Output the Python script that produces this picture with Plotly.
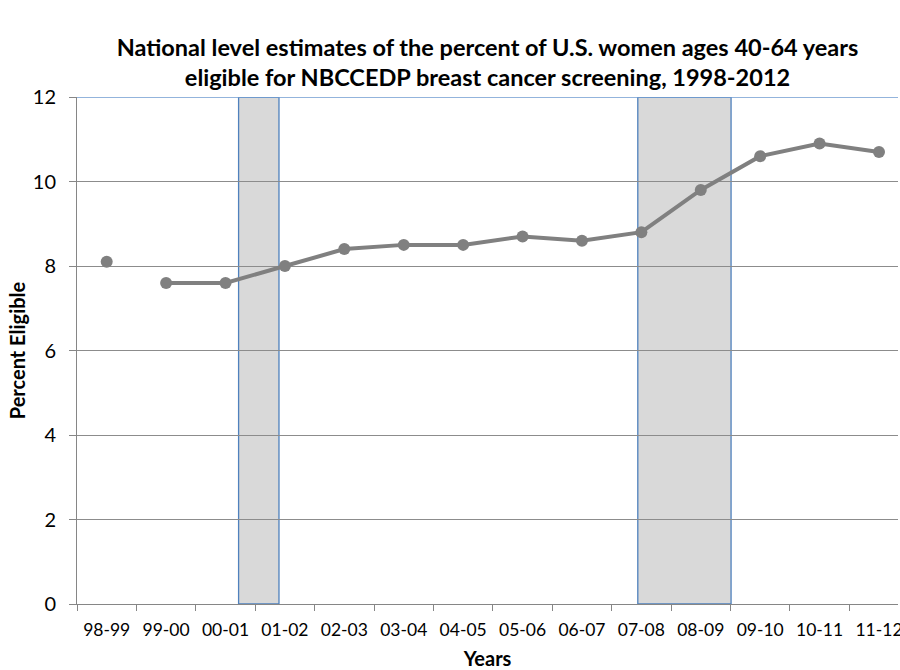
import plotly.graph_objects as go

years = ["98-99", "99-00", "00-01", "01-02", "02-03", "03-04", "04-05",
         "05-06", "06-07", "07-08", "08-09", "09-10", "10-11", "11-12"]
percent_eligible = [8.1, 7.6, 7.6, 8.0, 8.4, 8.5, 8.5, 8.7, 8.6, 8.8, 9.8, 10.6, 10.9, 10.7]
# shaded periods, in category-index units (start, end)
shaded_periods = [(2.22, 2.90), (8.94, 10.51)]
y_ticks = [0, 2, 4, 6, 8, 10, 12]

FONT = "Lato"
GRAY = "#808080"
BLUE = "#4F81BD"

fig = go.Figure()

# isolated first point
fig.add_trace(go.Scatter(
    x=years[:1], y=percent_eligible[:1], mode="markers",
    marker=dict(color=GRAY, size=12), showlegend=False, cliponaxis=False))
# connected series
fig.add_trace(go.Scatter(
    x=years[1:], y=percent_eligible[1:], mode="lines+markers",
    line=dict(color=GRAY, width=4), marker=dict(color=GRAY, size=12),
    showlegend=False, cliponaxis=False))

for x0, x1 in shaded_periods:
    fig.add_shape(type="rect", xref="x", yref="y", x0=x0, x1=x1, y0=0, y1=12,
                  fillcolor="#D9D9D9", line=dict(color=BLUE, width=1.3), layer="below")

fig.add_shape(type="line", xref="paper", yref="y", x0=0, x1=1, y0=12, y1=12,
              line=dict(color="#6F9BD1", width=1.3))

fig.update_layout(
    width=900, height=670,
    margin=dict(l=77, r=2, t=97, b=66, autoexpand=False),
    paper_bgcolor="white", plot_bgcolor="white",
    font=dict(family=FONT, size=18, color="#000000"),
    title=dict(
        text="National level estimates of the percent of U.S. women ages 40-64 years<br>eligible for NBCCEDP breast cancer screening, 1998-2012",
        x=0.5, xref="paper", xanchor="center", y=1 - 55.5 / 670, yanchor="middle",
        font=dict(family=FONT, size=23.5, color="#000000", weight="bold")),
    xaxis=dict(
        type="category", categoryorder="array", categoryarray=years,
        range=[-0.5, 13.32], tickson="boundaries", ticks="outside", ticklen=6,
        tickcolor="#868686", showline=True, linecolor="#868686", linewidth=1,
        showgrid=False, tickfont=dict(size=17.5), automargin=False,
        ticklabelstandoff=10,
        title=dict(text="Years", font=dict(size=20, weight="bold"), standoff=13)),
    yaxis=dict(
        range=[0, 12], tickvals=y_ticks, ticks="outside", ticklen=7,
        tickcolor="#868686", showline=True, linecolor="#868686", linewidth=1,
        showgrid=True, gridcolor="#8C8C8C", gridwidth=1, zeroline=False,
        tickfont=dict(size=20), automargin=False, ticklabelstandoff=9,
        title=dict(text="Percent Eligible", font=dict(size=20, weight="bold"), standoff=1)),
)

fig.write_html(
    "out.html",
    config={"displayModeBar": False},
    post_script="document.body.style.margin='0';document.body.style.overflow='hidden';",
)
